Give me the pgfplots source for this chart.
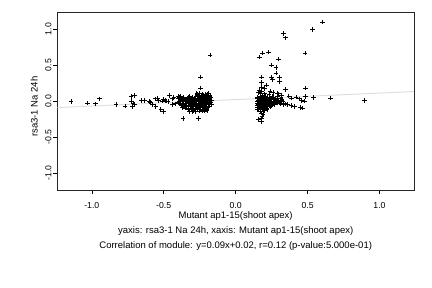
\documentclass[border=0pt]{standalone}
\usepackage{pgfplots}
\pgfplotsset{compat=1.18}
\usepackage{fontspec}
\setmainfont{Liberation Sans}
\begin{document}
\begin{tikzpicture}
\path[use as bounding box] (0,0) rectangle (432pt,288pt);
\begin{axis}[
  at={(57.3pt,98pt)}, anchor=south west,
  scale only axis, width=356.7pt, height=177.3pt,
  xmin=-1.24, xmax=1.24, ymin=-1.24, ymax=1.23,
  xtick={-1,-0.5,0,0.5,1}, ytick={-1,-0.5,0,0.5,1},
  xticklabels={-1.0,-0.5,0.0,0.5,1.0}, yticklabels={-1.0,-0.5,0.0,0.5,1.0},
  tick pos=left, tick align=outside, major tick length=4pt,
  tick style={black, line width=0.5pt},
  axis line style={line width=0.6pt, black!85},
  font=\fontsize{9.5}{11}\selectfont,
  ticklabel style={font=\fontsize{8.7}{10}\selectfont},
  xticklabel style={anchor=center, yshift=-11.5pt},
  yticklabel style={rotate=90, anchor=center, yshift=5pt},
  xlabel={Mutant ap1-15(shoot apex)},
  ylabel={rsa3-1 Na 24h},
  xlabel style={at={(axis description cs:0.5,-0.147)}, anchor=center},
  ylabel style={at={(axis description cs:-0.0645,0.47)}, anchor=center},
  clip=true,
]
\addplot[gray!25, line width=1pt] coordinates {(-1.24,-0.0916) (1.24,0.1316)};
\addplot[only marks, mark=+, mark size=2.3pt, mark options={line width=0.75pt, black}] coordinates {
(-1.145,-0.01) (-1.03,-0.03) (-0.974,-0.04) (-0.948,0.03) (-0.832,-0.05) (-0.77,-0.07)
(-0.728,0.06) (-0.705,0.075) (-0.728,0.0) (-0.72,-0.08) (-0.705,-0.05) (-0.714,-0.03)
(-0.654,0.005) (-0.633,0.01) (-0.59,-0.02) (-0.58,-0.05) (-0.56,0.03) (-0.555,-0.08)
(-0.545,0.04) (-0.51,0.0) (-0.52,-0.12) (-0.5,-0.15) (-0.49,0.01) (-0.48,0.0)
(-0.5,0.02) (-0.47,-0.01) (-0.46,0.08) (-0.44,0.03) (-0.44,-0.05) (-0.43,0.05)
(-0.39,0.04) (-0.366,-0.24) (-0.385,0.06) (-0.42,-0.04) (-0.535,0.01) (-0.597,-0.01)
(-0.246,0.335) (-0.246,0.18) (-0.257,-0.24) (-0.177,0.64) (-0.27,0.107) (-0.19,0.107)
(-0.232,0.08) (-0.322,-0.15) (-0.301,-0.15) (-0.28,-0.15) (-0.22,-0.14) (-0.2,-0.13)
(-0.40,0.03) (-0.40,-0.02) (-0.398,0.06)
(-0.39,0.0) (-0.388,-0.04) (-0.392,0.05)
(-0.38,0.02) (-0.381,-0.03) (-0.377,-0.06)
(-0.37,0.01) (-0.372,-0.05) (-0.368,0.04) (-0.371,-0.09)
(-0.36,0.0) (-0.362,-0.03) (-0.357,0.03) (-0.359,-0.07) (-0.363,0.05)
(-0.35,-0.01) (-0.348,0.02) (-0.352,-0.05) (-0.347,-0.1)
(-0.34,0.0) (-0.342,-0.04) (-0.338,0.04) (-0.341,-0.07) (-0.336,0.02)
(-0.33,0.01) (-0.332,-0.02) (-0.328,-0.06) (-0.331,0.05) (-0.327,-0.12)
(-0.32,0.0) (-0.318,-0.03) (-0.322,0.03) (-0.317,-0.08) (-0.323,0.06)
(-0.31,-0.01) (-0.312,0.02) (-0.308,-0.05) (-0.311,-0.1) (-0.306,0.04)
(-0.30,0.0) (-0.302,-0.03) (-0.298,0.05) (-0.301,-0.06) (-0.297,-0.13) (-0.303,0.02)
(-0.29,0.01) (-0.288,-0.02) (-0.292,-0.07) (-0.287,0.04) (-0.291,-0.11)
(-0.28,0.0) (-0.282,-0.04) (-0.278,0.03) (-0.281,-0.08) (-0.277,0.06)
(-0.27,-0.01) (-0.268,0.02) (-0.272,-0.05) (-0.267,0.09) (-0.271,-0.1)
(-0.26,0.0) (-0.262,-0.03) (-0.258,0.04) (-0.261,-0.06) (-0.257,0.07) (-0.263,-0.12)
(-0.25,0.01) (-0.248,-0.02) (-0.252,-0.08) (-0.247,0.05) (-0.251,-0.14) (-0.253,0.11)
(-0.24,0.0) (-0.242,-0.04) (-0.238,0.03) (-0.241,-0.07) (-0.237,0.08) (-0.243,-0.11)
(-0.23,-0.01) (-0.228,0.02) (-0.232,-0.05) (-0.227,0.06) (-0.231,-0.13) (-0.233,0.1)
(-0.22,0.0) (-0.222,-0.03) (-0.218,0.04) (-0.221,-0.09) (-0.217,0.07) (-0.223,-0.06)
(-0.21,0.01) (-0.208,-0.02) (-0.212,-0.06) (-0.207,0.05) (-0.211,-0.1) (-0.213,0.09)
(-0.20,0.0) (-0.202,-0.04) (-0.198,0.03) (-0.201,-0.07) (-0.197,0.1) (-0.203,-0.12)
(-0.19,-0.01) (-0.188,0.02) (-0.192,-0.05) (-0.187,0.06) (-0.191,-0.09) (-0.193,0.11)
(-0.18,0.0) (-0.182,-0.03) (-0.178,0.04) (-0.181,-0.07) (-0.177,0.08)
(-0.17,0.01) (-0.172,-0.02) (-0.168,-0.05) (-0.171,0.05)
(0.605,1.10) (0.533,1.0) (0.331,0.94) (0.348,0.88) (0.482,0.67) (0.164,0.61)
(0.185,0.67) (0.227,0.68) (0.296,0.585) (0.25,0.50) (0.28,0.47) (0.28,0.39)
(0.303,0.33) (0.25,0.33) (0.257,0.30) (0.303,0.27) (0.18,0.335) (0.18,0.26)
(0.215,0.22) (0.345,0.16) (0.484,0.18) (0.897,0.01) (0.486,0.06) (0.54,0.05)
(0.658,0.04) (0.37,0.07) (0.39,0.04) (0.452,-0.09) (0.466,-0.1) (0.384,-0.06)
(0.406,-0.07) (0.345,-0.04) (0.36,-0.05) (0.42,0.055) (0.44,0.03) (0.46,0.01)
(0.48,0.0) (0.41,-0.08) (0.157,-0.26) (0.18,-0.29) (0.18,-0.24) (0.19,-0.19)
(0.19,-0.15) (0.183,-0.21) (0.24,0.14) (0.26,0.12) (0.2,0.17) (0.29,0.11)
(0.15,0.0) (0.152,-0.03) (0.149,-0.06) (0.151,0.03) (0.153,-0.09) (0.148,-0.12) (0.152,0.05)
(0.16,0.01) (0.162,-0.02) (0.158,-0.05) (0.161,-0.08) (0.163,0.04) (0.159,-0.11) (0.16,0.12) (0.162,0.15)
(0.17,0.0) (0.172,-0.04) (0.168,-0.07) (0.171,0.03) (0.173,-0.1) (0.169,0.06) (0.17,-0.14) (0.172,0.1)
(0.18,-0.01) (0.182,-0.03) (0.178,-0.06) (0.181,0.02) (0.183,-0.09) (0.179,0.05) (0.18,-0.17) (0.182,0.14) (0.18,0.19)
(0.19,0.0) (0.192,-0.04) (0.188,-0.07) (0.191,0.03) (0.193,-0.11) (0.189,0.08)
(0.20,0.01) (0.202,-0.02) (0.198,-0.05) (0.201,0.04) (0.203,-0.09) (0.199,0.1) (0.2,-0.13)
(0.21,0.0) (0.212,-0.03) (0.208,-0.06) (0.211,0.03) (0.213,-0.1) (0.209,0.07)
(0.22,-0.01) (0.222,-0.04) (0.218,0.02) (0.221,-0.07) (0.223,0.05) (0.219,-0.12)
(0.23,0.0) (0.232,-0.03) (0.228,0.03) (0.231,-0.06) (0.233,0.09)
(0.24,0.01) (0.242,-0.02) (0.238,-0.05) (0.241,0.04) (0.243,-0.08)
(0.25,0.0) (0.252,-0.03) (0.248,0.02) (0.251,-0.06) (0.253,0.07)
(0.26,-0.01) (0.262,0.02) (0.258,-0.04) (0.261,0.05)
(0.27,0.0) (0.272,-0.03) (0.268,0.03) (0.271,-0.05)
(0.28,0.01) (0.282,-0.02) (0.278,0.04)
(0.29,0.0) (0.292,-0.03) (0.288,0.02) (0.291,0.06)
(0.30,0.01) (0.302,-0.02) (0.298,0.1)
(0.31,0.0) (0.312,-0.04) (0.308,0.03)
(0.32,-0.01) (0.322,0.02) (0.318,0.08)
(0.33,0.0) (0.332,-0.05)
};
\end{axis}
\node[font=\fontsize{9.5}{11}\selectfont] at (235.7pt,57.3pt) {yaxis: rsa3-1 Na 24h, xaxis: Mutant ap1-15(shoot apex)};
\node[font=\fontsize{9.5}{11}\selectfont] at (235.7pt,42pt) {Correlation of module: y=0.09x+0.02, r=0.12 (p-value:5.000e-01)};
\end{tikzpicture}
\end{document}
